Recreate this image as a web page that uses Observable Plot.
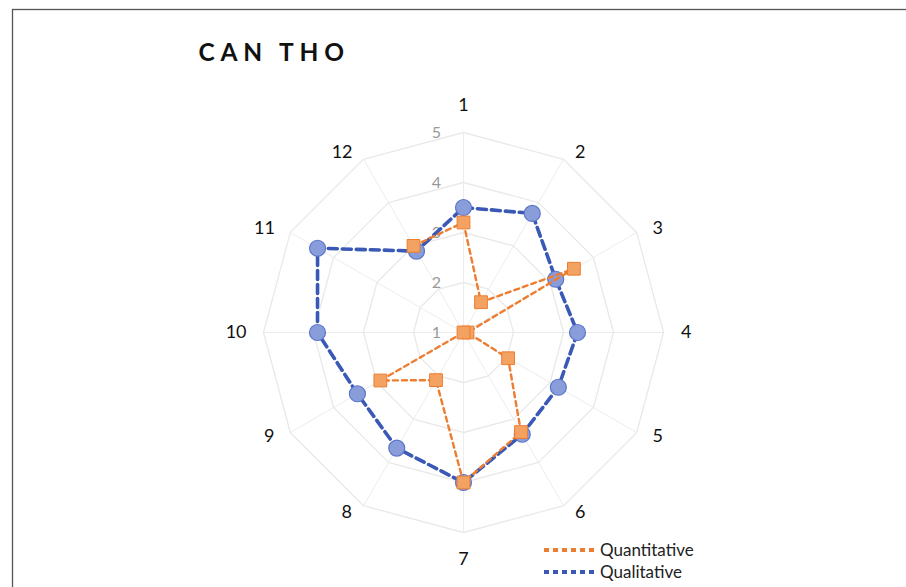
<!DOCTYPE html>
<html>
<head>
<meta charset="utf-8">
<script src="https://cdn.jsdelivr.net/npm/d3@7"></script>
<script src="https://cdn.jsdelivr.net/npm/@observablehq/plot@0.6"></script>
<style>
  html, body { margin: 0; padding: 0; background: #fff; }
  #wrap { position: relative; width: 906px; height: 587px; overflow: hidden; font-family: Lato, "Open Sans", sans-serif; }
  #legend { position: absolute; left: 543px; top: 539px; font-size: 17px; color: #222; line-height: 22px; }
  #legend div { display: flex; align-items: center; }
  #legend svg { margin-right: 3px; }
</style>
</head>
<body>
<div id="wrap"></div>
<script>
// ---- data ----
const title = "CAN THO";
const categories = ["1","2","3","4","5","6","7","8","9","10","11","12"];
const seriesNames = ["Quantitative", "Qualitative"];
const quantitative = [3.2, 1.7, 3.55, 1.08, 2.03, 3.3, 4.0, 2.1, 2.92, 1.0, null, 3.0];
const qualitative  = [3.5, 3.75, 3.13, 3.28, 3.19, 3.35, 4.0, 3.67, 3.45, 3.92, 4.37, 2.88];
const ringTicks = [1, 2, 3, 4, 5];
const axisMin = 1, axisMax = 5;

// ---- polar helpers ----
const W = 906, H = 587;
const unit = 50, cx = 463, cy = 332;
const n = categories.length;
const ang = i => i * 2 * Math.PI / n;
const px = (i, v) => v == null ? NaN : (v - axisMin) * Math.sin(ang(i));
const py = (i, v) => v == null ? NaN : (v - axisMin) * Math.cos(ang(i));

function seriesRows(vals, name) {
  const rows = vals.map((v, i) => ({name, i, v, x: px(i, v), y: py(i, v)}));
  rows.push({...rows[0]}); // close the loop
  return rows;
}
const qRows = seriesRows(quantitative, seriesNames[0]);
const lRows = seriesRows(qualitative, seriesNames[1]);

const gridRows = ringTicks.filter(t => t > axisMin).flatMap(t =>
  d3.range(n + 1).map(k => ({ring: t, x: px(k % n, t), y: py(k % n, t)})));
const spokes = categories.map((c, i) => ({x1: 0, y1: 0, x2: px(i, axisMax), y2: py(i, axisMax)}));
// category labels sit just outside the outer ring, pushed out by their own size
const catLabels = categories.map((c, i) => {
  const s = Math.sin(ang(i)), co = Math.cos(ang(i));
  const sx = Math.abs(s) < 1e-9 ? 0 : Math.sign(s);
  const sy = Math.abs(co) > 0.999 ? Math.sign(co) : 0;
  const halfW = (6 + 4.7 * c.length) / unit;
  return {c, x: 4.24 * s + sx * halfW, y: 4.16 * co + sy * 0.38};
});
const tickLabels = ringTicks.map(t => ({t, x: 0, y: t - axisMin}));

const chart = Plot.plot({
  width: W, height: H,
  marginTop: 0, marginBottom: 0, marginLeft: 0, marginRight: 0,
  x: {domain: [-cx / unit, (W - cx) / unit], axis: null},
  y: {domain: [-(H - cy) / unit, cy / unit], axis: null},
  style: {fontFamily: "Lato, 'Open Sans', sans-serif", background: "#fff"},
  marks: [
    Plot.frame({stroke: "#555", strokeWidth: 1.3, insetTop: 9, insetLeft: 12, insetRight: -10, insetBottom: -10}),
    Plot.link(spokes, {x1: "x1", y1: "y1", x2: "x2", y2: "y2", stroke: "#ececec", strokeWidth: 1}),
    Plot.line(gridRows, {x: "x", y: "y", z: "ring", stroke: "#e9e9e9", strokeWidth: 1.3}),
    Plot.text(tickLabels, {x: "x", y: "y", text: "t", dx: -27, fill: "#999", fontSize: 16}),
    Plot.text(catLabels, {x: "x", y: "y", text: "c", fill: "#111", fontSize: 18}),
    Plot.line(lRows, {x: "x", y: "y", stroke: "#3a58b5", strokeWidth: 3.6, strokeDasharray: "9,5"}),
    Plot.dot(lRows.slice(0, n), {x: "x", y: "y", r: 8, fill: "#8a9ddb", stroke: "#5b76c9", strokeWidth: 1.2}),
    Plot.line(qRows, {x: "x", y: "y", stroke: "#ed7d31", strokeWidth: 2.4, strokeDasharray: "5,4"}),
    Plot.dot(qRows.slice(0, n).filter(d => d.v != null), {x: "x", y: "y", symbol: "square", r: 7.2, fill: "#f4a261", stroke: "#ed7d31", strokeWidth: 1}),
    Plot.text([title], {frameAnchor: "top-left", dx: 198, dy: 43, text: d => d, fontSize: 24.5, fontWeight: "bold", fill: "#111", textAnchor: "start", lineAnchor: "top"})
  ]
});
chart.querySelectorAll("text").forEach(t => { if (t.textContent === title) t.setAttribute("letter-spacing", "5.8"); });
const wrap = document.getElementById("wrap");
wrap.appendChild(chart);

// legend
const legend = document.createElement("div");
legend.id = "legend";
const legendStyles = [
  {name: seriesNames[0], color: "#ed7d31"},
  {name: seriesNames[1], color: "#3a58b5"}
];
legendStyles.forEach(s => {
  const row = document.createElement("div");
  row.innerHTML = `<svg width="54" height="8"><line x1="1" y1="4" x2="53" y2="4" stroke="${s.color}" stroke-width="4" stroke-dasharray="5,4"/></svg><span>${s.name}</span>`;
  legend.appendChild(row);
});
wrap.appendChild(legend);
</script>
</body>
</html>
